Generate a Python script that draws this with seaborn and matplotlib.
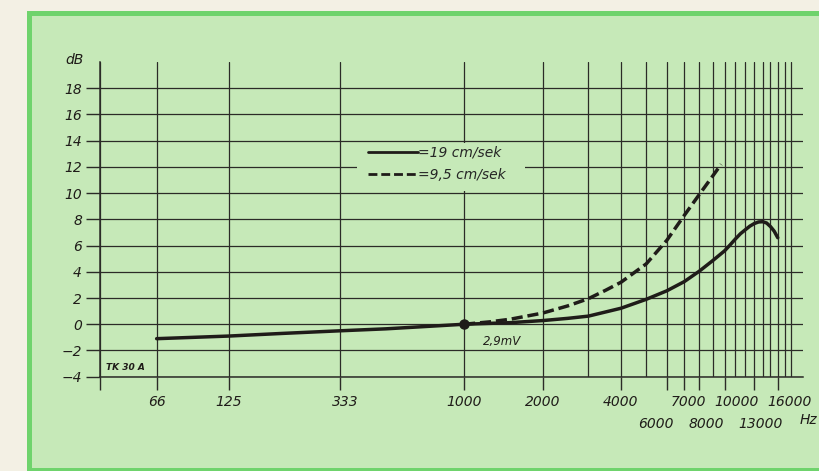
import numpy as np
import pandas as pd
import matplotlib
matplotlib.use("Agg")
import matplotlib.pyplot as plt
import matplotlib.transforms as mtransforms
from matplotlib.patches import Rectangle
import seaborn as sns

# ---------------- data ----------------
freq_19 = [66, 125, 200, 333, 500, 1000, 1500, 2000, 2500, 3000, 4000, 5000,
           6000, 7000, 8000, 9000, 10000, 10500, 11000, 11500, 12000, 12500,
           13000, 13500, 14000, 14500, 15000, 15500, 16000]
db_19 = [-1.1, -0.9, -0.7, -0.5, -0.35, 0.0, 0.12, 0.28, 0.45, 0.62, 1.22, 1.9,
         2.55, 3.25, 4.05, 4.85, 5.6, 6.05, 6.5, 6.9, 7.2, 7.48,
         7.68, 7.8, 7.82, 7.72, 7.45, 7.1, 6.6]

freq_95 = [1000, 1250, 1500, 2000, 2500, 3000, 3500, 4000, 5000, 6000,
           7000, 8000, 9000, 9700]
db_95 = [0.0, 0.18, 0.38, 0.85, 1.4, 1.95, 2.6, 3.2, 4.6, 6.4,
         8.3, 9.9, 11.3, 12.2]

series_labels = ["=19 cm/sek", "=9,5 cm/sek"]

y_ticks = [-4, -2, 0, 2, 4, 6, 8, 10, 12, 14, 16, 18]
x_major = [40, 66, 125, 333, 1000, 2000, 4000, 6000, 7000, 8000, 10000, 13000, 16000]
x_major_labels = ["", "66", "125", "333", "1000", "2000", "4000", "6000",
                  "7000", "8000", "10000", "13000", "16000"]
second_row = ["6000", "8000", "13000"]
x_minor = [3000, 5000, 9000, 11000, 12000, 14000, 15000, 17000, 18000]

ref_freq, ref_db, ref_label = 1000, 0.0, "2,9mV"

# ---------------- style ----------------
sns.set_theme(style="ticks")
plt.rcParams["font.family"] = ["DejaVu Sans"]
plt.rcParams["font.style"] = "italic"

PAPER = "#f3f0e4"
BORDER = "#6fd36c"
PANEL = "#c6e9b8"
INK = "#1f1c19"
GRID = "#2b2b27"

fig = plt.figure(figsize=(8.19, 4.71), dpi=100, facecolor=PAPER)
fig.patches.append(Rectangle((27 / 819, -0.05), 1.2, (471 - 11) / 471 + 0.05,
                             transform=fig.transFigure, facecolor=BORDER,
                             edgecolor="none", zorder=-10))
fig.patches.append(Rectangle((32 / 819, 3 / 471), 1.2, (468 - 16) / 471,
                             transform=fig.transFigure, facecolor=PANEL,
                             edgecolor="none", zorder=-9))

ax = fig.add_axes([100 / 819, 94.3 / 471, 703 / 819, 314.7 / 471])
ax.set_facecolor("none")

df = pd.concat([
    pd.DataFrame({"freq": freq_19, "dB": db_19, "series": series_labels[0]}),
    pd.DataFrame({"freq": freq_95, "dB": db_95, "series": series_labels[1]}),
])

sns.lineplot(data=df, x="freq", y="dB", style="series", color=INK,
             dashes={series_labels[0]: "", series_labels[1]: (3.2, 1.4)},
             linewidth=2.5, ax=ax, zorder=3, legend=True, sort=True)
ax.plot([ref_freq], [ref_db], marker="o", ms=6.5, color=INK, zorder=4)

ax.set_xscale("log")
ax.set_xlim(40, 20000)
ax.set_ylim(-4, 20)

ax.set_xticks(x_major)
ax.set_xticklabels(x_major_labels)
ax.set_xticks(x_minor, minor=True)
ax.set_xticklabels([""] * len(x_minor), minor=True)
ax.set_yticks(y_ticks)
ax.set_yticklabels([str(v).replace("-", "\u2212") for v in y_ticks])

ax.tick_params(axis="x", which="major", length=9, width=1.0, color=GRID,
               direction="out", pad=4, labelsize=10, labelcolor=INK)
ax.tick_params(axis="x", which="minor", length=0)
ax.tick_params(axis="y", which="major", length=10, width=1.0, color=GRID,
               direction="out", pad=3, labelsize=10, labelcolor=INK)

ax.grid(True, which="both", axis="x", color=GRID, linewidth=0.9)
ax.grid(True, which="major", axis="y", color=GRID, linewidth=0.9)
ax.set_axisbelow(True)

for s in ["top", "right"]:
    ax.spines[s].set_visible(False)
for s in ["left", "bottom"]:
    ax.spines[s].set_color(GRID)
    ax.spines[s].set_linewidth(1.1)

ax.set_xlabel("")
ax.set_ylabel("")

# tick label positioning tweaks
offsets = {"333": 6, "7000": 4, "10000": 12, "16000": 12,
           "6000": -11, "8000": 7, "13000": 6}
for lab in ax.get_xticklabels():
    t = lab.get_text()
    dy = 0
    if t in second_row:
        dy = -22
    dx = offsets.get(t, 0)
    if dx or dy:
        lab.set_transform(lab.get_transform() +
                          mtransforms.ScaledTranslation(dx / 100, dy / 100,
                                                        fig.dpi_scale_trans))

# legend cover + legend
ax.add_patch(Rectangle(((357 - 100) / 703, (376.7 - 191) / 314.7),
                       (525 - 357) / 703, (191 - 143) / 314.7,
                       transform=ax.transAxes, facecolor=PANEL,
                       edgecolor="none", zorder=1))
leg = ax.legend(loc="upper left", bbox_to_anchor=((368 - 100) / 703, 0.735),
                frameon=False, handlelength=3.6, handletextpad=0.0,
                labelspacing=0.6, borderpad=0, borderaxespad=0,
                prop={"size": 10, "style": "italic"})
for line in leg.get_lines():
    line.set_linewidth(2.0)
    line.set_color(INK)

# annotations
ax.text(-0.036, 1.006, "dB", transform=ax.transAxes, ha="center", va="center",
        fontsize=10, style="italic", color=INK)
ax.text(0.008, 0.028, "TK 30 A", transform=ax.transAxes, ha="left",
        va="center", fontsize=6.5, weight="bold", style="italic", color=INK)
ax.annotate(ref_label, xy=(ref_freq, ref_db), xytext=(38, -17),
            textcoords="offset pixels", ha="center", va="center",
            fontsize=8.5, style="italic", color=INK)
fig.text(817 / 819, (471 - 420) / 471, "Hz", ha="right", va="center",
         fontsize=10, style="italic", color=INK)

fig.savefig("out.png", dpi=100, facecolor=PAPER)
